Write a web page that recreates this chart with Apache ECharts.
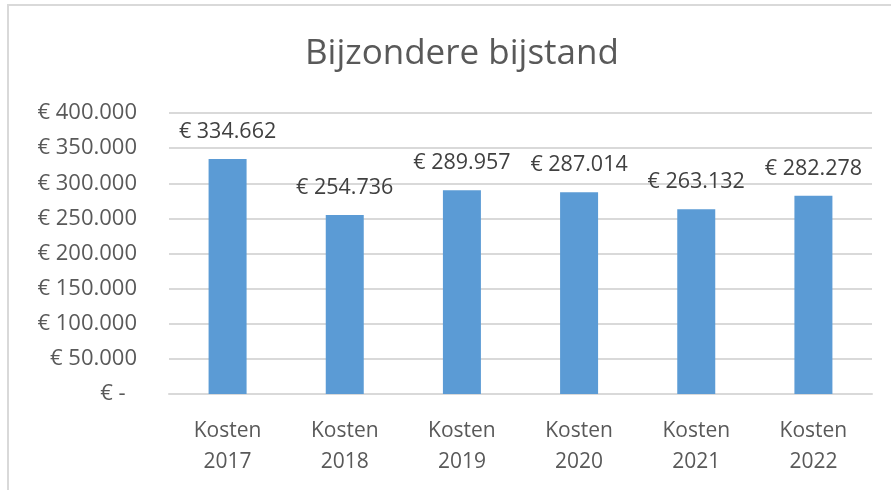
<!DOCTYPE html>
<html>
<head>
<meta charset="utf-8">
<script src="https://cdn.jsdelivr.net/npm/echarts@6/dist/echarts.min.js"></script>
<style>
    html, body {margin: 0; padding: 0; background: #fff;}
    #frame {position: absolute; left: 7px; top: 4px; width: 884px; height: 486px;
        border-left: 2px solid #d9d9d9; border-top: 2px solid #d9d9d9; box-sizing: border-box;}
    #bijstand {position: absolute; left: 0; top: 0; width: 891px; height: 490px;}
</style>
</head>
<body>
<div id="frame"></div>
<div id="bijstand"></div>
<script>
var years = ['Kosten\n2017', 'Kosten\n2018', 'Kosten\n2019', 'Kosten\n2020', 'Kosten\n2021', 'Kosten\n2022'];
var kosten = [334662, 254736, 289957, 287014, 263132, 282278];   // euro
var yTicks = [0, 50000, 100000, 150000, 200000, 250000, 300000, 350000, 400000];

function euro(v) {
    if (v === 0) return '€ -  ';
    return '€ ' + String(v).replace(/\B(?=(\d{3})+(?!\d))/g, '.');
}

var font = '"Open Sans", "Noto Sans", sans-serif';
var myChart = echarts.init(document.getElementById('bijstand'));
myChart.setOption({
    animation: false,
    title: {
        text: 'Bijzondere bijstand',
        left: 300,
        top: 32,
        textStyle: {fontFamily: font, fontSize: 35, fontWeight: 'normal', color: '#595959'}
    },
    grid: {left: 169, right: 19, top: 113, bottom: 96},
    xAxis: {
        type: 'category',
        data: years,
        axisLine: {lineStyle: {color: '#d9d9d9', width: 2}},
        axisTick: {show: false},
        axisLabel: {fontFamily: font, fontSize: 21, color: '#595959', lineHeight: 31, margin: 22}
    },
    yAxis: {
        type: 'value',
        min: yTicks[0],
        max: yTicks[yTicks.length - 1],
        interval: 50000,
        axisLine: {show: false},
        axisTick: {show: false},
        splitLine: {lineStyle: {color: '#d9d9d9', width: 2}},
        axisLabel: {fontFamily: font, fontSize: 22, color: '#595959', margin: 32, formatter: euro}
    },
    series: [{
        type: 'bar',
        data: kosten,
        barWidth: 38,
        itemStyle: {color: '#5b9bd5'},
        label: {
            show: true,
            position: 'top',
            distance: 16,
            fontFamily: font,
            fontSize: 21.5,
            color: '#404040',
            formatter: function (p) { return euro(p.value); }
        }
    }]
});
</script>
</body>
</html>
